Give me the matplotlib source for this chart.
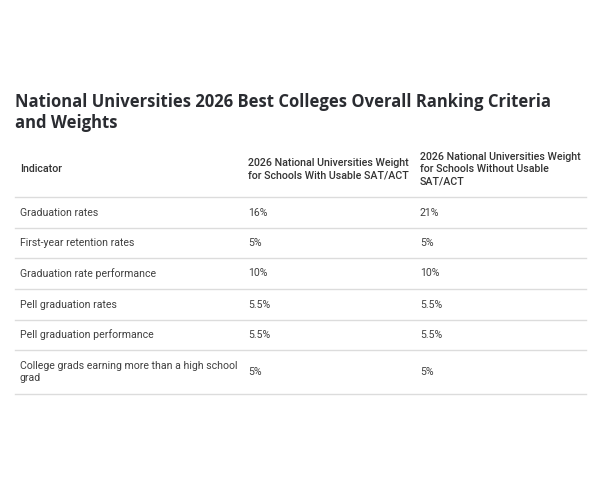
import matplotlib as mpl
mpl.use('Agg')
import matplotlib.pyplot as plt

# table content
title = "National Universities 2026 Best Colleges Overall Ranking Criteria\nand Weights"
headers = ["Indicator",
           "2026 National Universities Weight\nfor Schools With Usable SAT/ACT",
           "2026 National Universities Weight\nfor Schools Without Usable\nSAT/ACT"]
indicators = ["Graduation rates",
              "First-year retention rates",
              "Graduation rate performance",
              "Pell graduation rates",
              "Pell graduation performance",
              "College grads earning more than a high school\ngrad"]
with_sat = ["16%", "5%", "10%", "5.5%", "5.5%", "5%"]
without_sat = ["21%", "5%", "10%", "5.5%", "5.5%", "5%"]

fig = plt.figure(figsize=(6, 4.8), dpi=100)
ax = fig.add_axes([0, 0, 1, 1])
ax.set_xlim(0, 600)
ax.set_ylim(480, 0)
ax.axis('off')

text_col = '#404040'
line_col = '#dcdcdc'
col_x = [20, 248, 420]
left, right = 15, 586

ax.text(15, 112.5, title, fontsize=12.0, fontweight='bold', family='Open Sans',
        color='#2a2c31', va='center', ha='left', linespacing=1.2)

# header row
header_y = 169
for x, h in zip(col_x, headers):
    ax.text(x, header_y, h, fontsize=7.7, family='Roboto', fontweight='medium',
            color='#333333', va='center', ha='left', linespacing=1.3)

row_lines = [197, 228, 258, 289, 320, 350, 394]
for y in row_lines:
    ax.plot([left, right], [y, y], color=line_col, lw=1.0)

for i in range(len(indicators)):
    yc = (row_lines[i] + row_lines[i + 1]) / 2
    for x, val in zip(col_x, [indicators[i], with_sat[i], without_sat[i]]):
        ax.text(x, yc, val, fontsize=7.6, family='Roboto', color=text_col,
                va='center', ha='left', linespacing=1.3)

plt.savefig('out.png', dpi=100, facecolor='white')
plt.close()
